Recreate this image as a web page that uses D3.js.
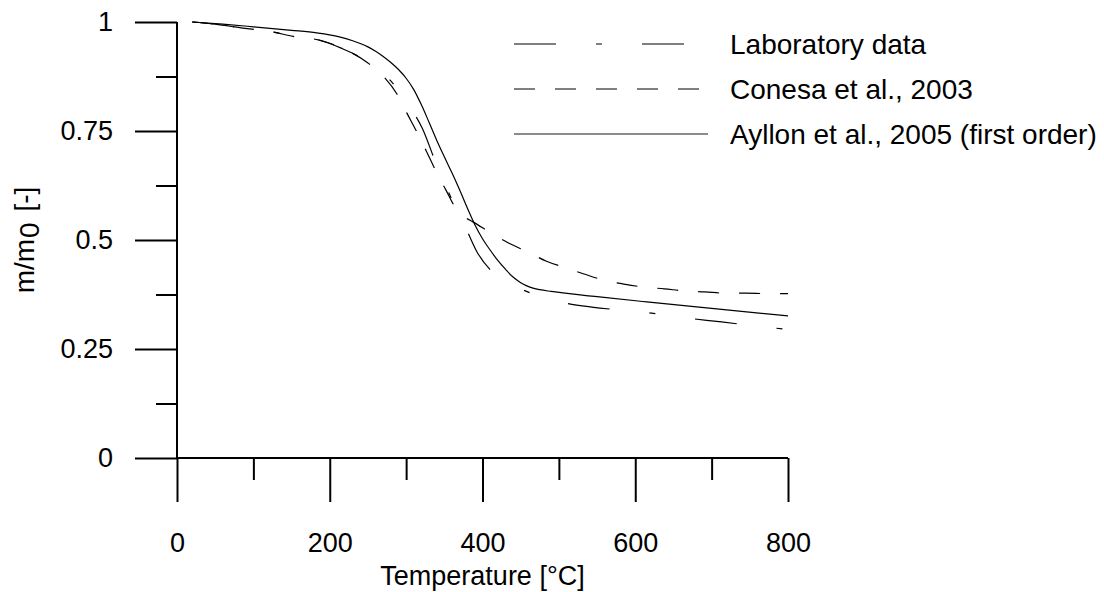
<!DOCTYPE html>
<html>
<head>
<meta charset="utf-8">
<script src="https://cdn.jsdelivr.net/npm/d3@7"></script>
<style>
  html, body { margin: 0; padding: 0; background: #fff; }
  svg { display: block; }
  text { font-family: "Liberation Sans", Arial, sans-serif; fill: #000; }
</style>
</head>
<body>
<svg id="chart" width="1104" height="592"></svg>
<script>
// ---- data ----
const labT = [20, 50, 86, 126, 152, 178, 215, 253, 289, 305, 321, 340, 353, 366, 380, 393, 410, 432, 446, 462, 492, 543, 605, 658, 713, 772, 800];
const labM = [1.0, 0.995, 0.986, 0.977, 0.967, 0.962, 0.94, 0.905, 0.846, 0.805, 0.757, 0.672, 0.62, 0.569, 0.52, 0.472, 0.432, 0.404, 0.391, 0.379, 0.362, 0.346, 0.336, 0.323, 0.312, 0.300, 0.295];

const conesaT = [20, 50, 86, 126, 152, 185, 220, 250, 271, 288, 301, 314, 327, 339, 352, 368, 378, 388, 411, 434, 460, 483, 509, 533, 559, 585, 611, 638, 665, 691, 718, 745, 772, 800];
const conesaM = [1.0, 0.995, 0.986, 0.977, 0.967, 0.959, 0.937, 0.906, 0.874, 0.835, 0.791, 0.748, 0.702, 0.658, 0.615, 0.565, 0.551, 0.541, 0.516, 0.493, 0.472, 0.452, 0.436, 0.422, 0.408, 0.399, 0.392, 0.388, 0.383, 0.381, 0.378, 0.378, 0.377, 0.377];

const ayllonT = [20, 60, 100, 150, 183, 210, 230, 250, 260, 270, 280, 290, 300, 310, 320, 330, 340, 350, 360, 370, 380, 390, 400, 410, 420, 430, 440, 450, 462, 475, 490, 550, 615, 700, 800];
const ayllonM = [1.0, 0.995, 0.989, 0.981, 0.975, 0.967, 0.957, 0.943, 0.933, 0.921, 0.907, 0.891, 0.871, 0.845, 0.81, 0.77, 0.729, 0.691, 0.654, 0.615, 0.574, 0.535, 0.503, 0.477, 0.453, 0.433, 0.415, 0.402, 0.392, 0.386, 0.382, 0.370, 0.358, 0.343, 0.326];

const xMajorTicks = [0, 200, 400, 600, 800];
const xMinorTicks = [100, 300, 500, 700];
const yMajorTicks = [0, 0.25, 0.5, 0.75, 1];
const yMinorTicks = [0.125, 0.375, 0.625, 0.875];
const yTickLabels = ["0", "0.25", "0.5", "0.75", "1"];

const seriesNames = ["Laboratory data", "Conesa et al., 2003", "Ayllon et al., 2005 (first order)"];
const seriesDash = ["42,40,6,40", "21,20", null];

// ---- layout ----
const svg = d3.select("#chart");
const x = d3.scaleLinear().domain([0, 800]).range([177, 788]);
const y = d3.scaleLinear().domain([0, 1]).range([458, 22]);
const FS = 27;
const majorLen = 42, minorLen = 21;

// ---- axes ----
const yMajor = d3.axisLeft(y).tickValues(yMajorTicks).tickSize(majorLen).tickPadding(22)
  .tickFormat((d, i) => yTickLabels[i]);
const gy = svg.append("g").attr("transform", `translate(${x(0)},0)`).call(yMajor);
const yMinor = d3.axisLeft(y).tickValues(yMinorTicks).tickSize(minorLen).tickFormat("");
const gy2 = svg.append("g").attr("transform", `translate(${x(0)},0)`).call(yMinor);

const xMajor = d3.axisBottom(x).tickValues(xMajorTicks).tickSize(44).tickPadding(31).tickFormat(d3.format("d"));
const gx = svg.append("g").attr("transform", `translate(0,${y(0)})`).call(xMajor);
const xMinor = d3.axisBottom(x).tickValues(xMinorTicks).tickSize(22).tickFormat("");
const gx2 = svg.append("g").attr("transform", `translate(0,${y(0)})`).call(xMinor);

[gy, gy2, gx, gx2].forEach(g => {
  g.select(".domain").remove();
  g.selectAll(".tick line").attr("stroke", "#000").attr("stroke-width", 2);
  g.selectAll(".tick text").attr("font-size", FS).attr("font-family", "Liberation Sans, Arial, sans-serif").attr("fill", "#000");
});

// axis lines
svg.append("line").attr("x1", x(0)).attr("x2", x(0)).attr("y1", y(1)).attr("y2", y(0))
  .attr("stroke", "#000").attr("stroke-width", 2);
svg.append("line").attr("x1", x(0)).attr("x2", x(800)).attr("y1", y(0)).attr("y2", y(0))
  .attr("stroke", "#000").attr("stroke-width", 2);

// axis titles
svg.append("text").attr("x", (x(0) + x(800)) / 2).attr("y", 585)
  .attr("text-anchor", "middle").attr("font-size", FS).text("Temperature [°C]");

const yl = svg.append("text").attr("transform", `translate(34,${(y(0) + y(1)) / 2}) rotate(-90)`)
  .attr("text-anchor", "middle").attr("font-size", 28);
yl.append("tspan").text("m/m");
yl.append("tspan").attr("dy", 5).attr("dx", 1).text("0");
yl.append("tspan").attr("dy", -5).attr("dx", 3).text(" [-]");

// ---- curves ----
const series = [
  labT.map((t, i) => [t, labM[i]]),
  conesaT.map((t, i) => [t, conesaM[i]]),
  ayllonT.map((t, i) => [t, ayllonM[i]])
];
const line = d3.line().x(d => x(d[0])).y(d => y(d[1])).curve(d3.curveMonotoneX);
series.forEach((s, i) => {
  svg.append("path").datum(s).attr("d", line)
    .attr("fill", "none").attr("stroke", "#000").attr("stroke-width", 1.2)
    .attr("stroke-dasharray", seriesDash[i]);
});

// ---- legend ----
const legendX1 = 514, legendX2 = [684, 699, 708], legendY = [44, 89, 134];
seriesNames.forEach((name, i) => {
  svg.append("line").attr("x1", legendX1).attr("x2", legendX2[i]).attr("y1", legendY[i]).attr("y2", legendY[i])
    .attr("stroke", i === 2 ? "#666" : "#000").attr("stroke-width", i === 2 ? 1.6 : 1.2)
    .attr("stroke-dasharray", seriesDash[i]);
  svg.append("text").attr("x", 730).attr("y", legendY[i] + 10).attr("font-size", 28).text(name);
});
</script>
</body>
</html>
